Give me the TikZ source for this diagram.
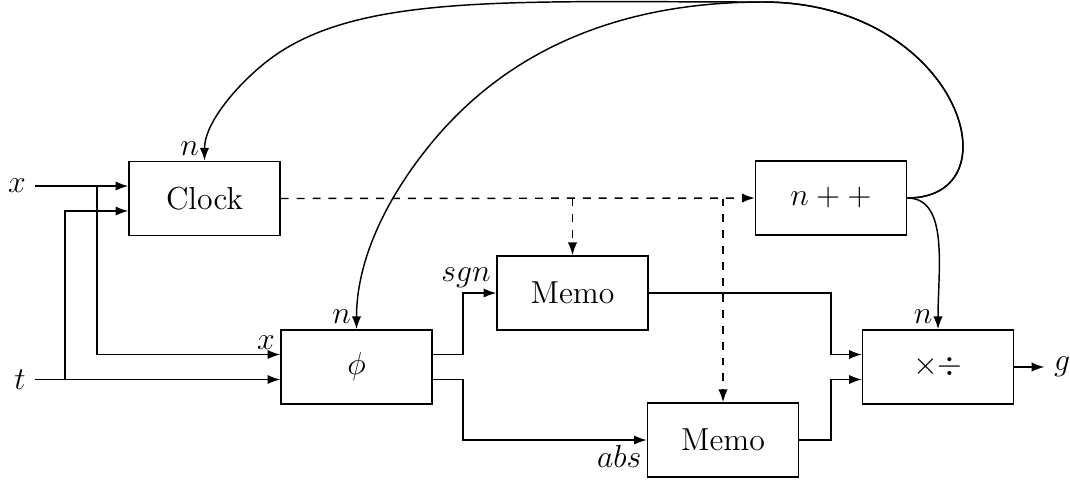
\documentclass[tikz,border=0pt]{standalone}
\usetikzlibrary{arrows.meta,calc}
\begin{document}
\begin{tikzpicture}[x=0.3774pt,y=-0.3774pt,
  line width=0.55pt,
  every node/.style={font=\fontsize{12}{14}\selectfont},
  blk/.style={draw,line width=0.55pt,minimum width=57pt,minimum height=28pt,inner sep=0pt},
  arr/.style={-{Latex[length=4.8pt,width=3.5pt]}},
  darr/.style={dashed,-{Latex[length=4.8pt,width=3.5pt]}},
  lblal/.style={anchor=south east,inner sep=1.8pt},
  lblbl/.style={anchor=north east,inner sep=1.8pt}]
\useasboundingbox (0,0) rectangle (1070,479);
% blocks
\node[blk] (clock)  at (204.5,198.5) {Clock};
\node[blk] (npp)    at (831,198)   {$n++$};
\node[blk] (memo1)  at (572.5,293) {Memo};
\node[blk] (phi)    at (356.5,367) {$\phi$};
\node[blk] (memo2)  at (723,440)   {Memo};
\node[blk] (muldiv) at (938,367)   {$\times\div$};
% inputs / output
\node (xin) at (17,185.5) {$x$};
\node (tin) at (20,379.5) {$t$};
\node (gout) at (1062,367) {$g$};
% ports
\coordinate (ci1) at ($(clock.west)+(0,-12.5)$);
\coordinate (ci2) at ($(clock.west)+(0,12.5)$);
\coordinate (pi1) at ($(phi.west)+(0,-12.5)$);
\coordinate (pi2) at ($(phi.west)+(0,12.5)$);
\coordinate (po1) at ($(phi.east)+(0,-12.5)$);
\coordinate (po2) at ($(phi.east)+(0,12.5)$);
\coordinate (mi1) at ($(muldiv.west)+(0,-12.5)$);
\coordinate (mi2) at ($(muldiv.west)+(0,12.5)$);
% junctions and bends
\coordinate (xj) at (97,185.5);
\coordinate (tj) at (65,379.5);
\coordinate (s1) at (463,0);
\coordinate (s2) at (831,0);
\coordinate (top) at (763,2);
\coordinate (cbend) at (270,59);
\coordinate (pbend) at (440,133);
% input wiring
\draw[arr] (xin.east |- ci1) -- (ci1);
\draw[arr] (xj) |- (pi1) node[lblal] {$x$};
\draw[arr] (tin.east |- pi2) -- (pi2);
\draw[arr] (tj) |- (ci2);
% phi outputs
\draw[arr] (po1) -| (s1 |- memo1.west) -- (memo1.west) node[lblal] {$sgn$};
\draw[arr] (po2) -| (s1 |- memo2.west) -- (memo2.west) node[lblbl] {$abs$};
% memo outputs
\draw[arr] (memo1.east) -| (s2 |- mi1) -- (mi1);
\draw[arr] (memo2.east) -| (s2 |- mi2) -- (mi2);
% output
\draw[arr] (muldiv.east) -- (gout.west);
% dashed clock lines
\draw[darr] (clock.east) -- (npp.west);
\draw[darr] (memo1.north |- clock.east) -- (memo1.north);
\draw[darr] (memo2.north |- clock.east) -- (memo2.north);
% feedback curves
\draw[arr] (npp.east) .. controls +(112,0) and +(195,0) .. (top)
  .. controls +(-250,0) and +(88,-66) .. (cbend)
  .. controls +(-28,21) and +(0,-40) .. (clock.north) node[lblal] {$n$};
\draw[arr] (npp.east) .. controls +(112,0) and +(195,0) .. (top)
  .. controls +(-120,0) and +(86,-97.5) .. (pbend)
  .. controls +(-41.6,47.3) and +(0,-80) .. (phi.north) node[lblal] {$n$};
\draw[arr] (npp.east) .. controls +(42,0) and +(0,-60) .. (muldiv.north) node[lblal] {$n$};
\end{tikzpicture}
\end{document}
